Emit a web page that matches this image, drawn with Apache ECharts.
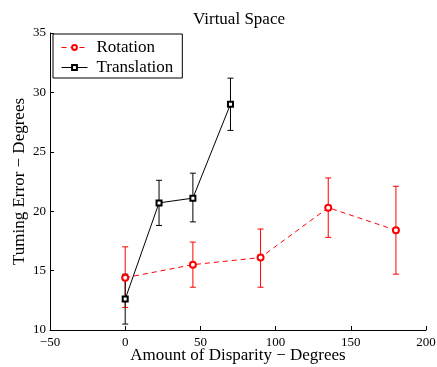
<!DOCTYPE html>
<html>
<head>
<meta charset="utf-8">
<script src="https://cdn.jsdelivr.net/npm/echarts@6/dist/echarts.min.js"></script>
<style>
  html, body { margin: 0; padding: 0; background: #fff; }
  #chart { width: 437px; height: 367px; }
</style>
</head>
<body>
<div id="chart"></div>
<script>
// Rotation condition: disparity (deg), mean turning error, error bar bounds
const rotX = [0, 45, 90, 135, 180];
const rotY = [14.4, 15.5, 16.1, 20.3, 18.4];
const rotLow = [11.9, 13.6, 13.6, 17.8, 14.7];
const rotHigh = [17.0, 17.4, 18.5, 22.8, 22.1];

// Translation condition
const trX = [0, 22.5, 45, 70];
const trY = [12.6, 20.7, 21.1, 29.0];
const trLow = [10.5, 18.8, 19.1, 26.8];
const trHigh = [14.7, 22.6, 23.2, 31.2];

const xTicks = [-50, 0, 50, 100, 150, 200];
const yTicks = [10, 15, 20, 25, 30, 35];

const font = 'Liberation Serif, Times New Roman, serif';

function pairs(xs, ys) { return xs.map((x, i) => [x, ys[i]]); }
function bars(xs, lo, hi) { return xs.map((x, i) => [x, lo[i], hi[i]]); }

// Vertical error bar with caps
function errorBar(color) {
  return function (params, api) {
    const x = api.value(0);
    const lo = api.coord([x, api.value(1)]);
    const hi = api.coord([x, api.value(2)]);
    const w = 3;
    const style = { stroke: color, lineWidth: 1 };
    return {
      type: 'group',
      children: [
        { type: 'line', shape: { x1: lo[0], y1: lo[1], x2: hi[0], y2: hi[1] }, style },
        { type: 'line', shape: { x1: lo[0] - w, y1: lo[1], x2: lo[0] + w, y2: lo[1] }, style },
        { type: 'line', shape: { x1: hi[0] - w, y1: hi[1], x2: hi[0] + w, y2: hi[1] }, style }
      ]
    };
  };
}

const chart = echarts.init(document.getElementById('chart'), null, { renderer: 'canvas' });
chart.setOption({
  animation: false,
  backgroundColor: '#fff',
  title: {
    text: 'Virtual Space',
    left: 188,
    top: 6,
    textStyle: { fontFamily: font, fontSize: 17, fontWeight: 'normal', color: '#000' }
  },
  legend: {
    left: 53,
    top: 34,
    orient: 'vertical',
    data: ['Rotation', 'Translation'],
    backgroundColor: '#fff',
    borderColor: '#000',
    borderWidth: 1,
    borderRadius: 0,
    padding: [5, 9, 2, 8],
    itemGap: 3,
    itemWidth: 26,
    itemHeight: 6,
    lineStyle: { width: 1 },
    textStyle: { fontFamily: font, fontSize: 17, color: '#000', lineHeight: 17, padding: [0, 0, 0, 4] }
  },
  grid: { left: 50, right: 11, top: 33, bottom: 37, containLabel: false, outerBoundsMode: 'none' },
  xAxis: {
    type: 'value',
    min: -50, max: 200, interval: 50,
    name: 'Amount of Disparity \u2212 Degrees',
    nameLocation: 'middle',
    nameGap: 17,
    nameMoveOverlap: false,
    nameTextStyle: { fontFamily: font, fontSize: 17, color: '#000' },
    axisLine: { onZero: false, lineStyle: { color: '#000' } },
    axisTick: { inside: true, length: 4, lineStyle: { color: '#000' } },
    axisLabel: { fontFamily: font, fontSize: 13, color: '#000', margin: 6,
      formatter: v => xTicks.includes(v) ? String(v).replace('-', '\u2212') : '' },
    splitLine: { show: false }
  },
  yAxis: {
    type: 'value',
    min: 10, max: 35, interval: 5,
    name: 'Tuming Error \u2212 Degrees',
    nameLocation: 'middle',
    nameGap: 22,
    nameMoveOverlap: false,
    nameTextStyle: { fontFamily: font, fontSize: 17, color: '#000' },
    axisLine: { onZero: false, lineStyle: { color: '#000' } },
    axisTick: { inside: true, length: 4, lineStyle: { color: '#000' } },
    axisLabel: { fontFamily: font, fontSize: 13, color: '#000', margin: 4,
      formatter: v => yTicks.includes(v) ? String(v) : '' },
    splitLine: { show: false }
  },
  series: [
    {
      name: 'Rotation-err',
      type: 'custom',
      renderItem: errorBar('#ff0000'),
      data: bars(rotX, rotLow, rotHigh),
      z: 1
    },
    {
      name: 'Translation-err',
      type: 'custom',
      renderItem: errorBar('#000000'),
      data: bars(trX, trLow, trHigh),
      z: 1
    },
    {
      name: 'Rotation',
      type: 'line',
      data: pairs(rotX, rotY),
      symbol: 'emptyCircle',
      symbolSize: 6,
      lineStyle: { color: '#ff0000', width: 1, type: [5, 4] },
      itemStyle: { color: '#ff0000', borderWidth: 1 },
      z: 2
    },
    {
      name: 'Translation',
      type: 'line',
      data: pairs(trX, trY),
      symbol: 'emptyRect',
      symbolSize: 5,
      lineStyle: { color: '#000', width: 1 },
      itemStyle: { color: '#000', borderWidth: 1 },
      z: 3
    }
  ]
});
</script>
</body>
</html>
